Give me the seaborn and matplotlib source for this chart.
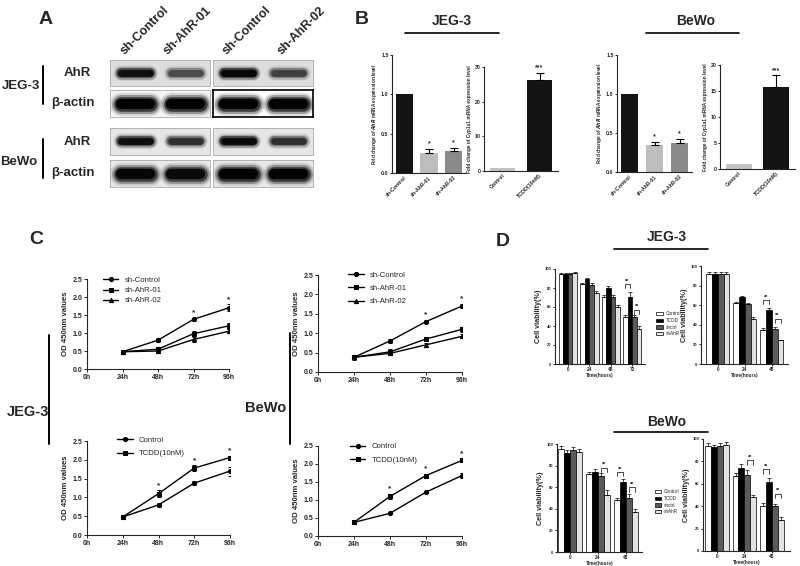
import numpy as np
import pandas as pd
import matplotlib
matplotlib.use("Agg")
import matplotlib.pyplot as plt
import seaborn as sns

# ---------------- data ----------------
# A: western blot band strength (0 = none, 1 = full black)
blot_lanes = ["sh-Control", "sh-AhR-01", "sh-Control", "sh-AhR-02"]
blot_rows = ["AhR", "β-actin", "AhR", "β-actin"]
band_strength = [
    [0.85, 0.45, 0.95, 0.50],
    [1.00, 1.00, 1.00, 1.00],
    [0.85, 0.60, 0.90, 0.60],
    [0.95, 0.90, 1.00, 1.00],
]

# B: qPCR fold change
ahr_cats = ["sh-Control", "sh-AhR-01", "sh-AhR-02"]
cyp_cats = ["Control", "TCDD(10nM)"]
jeg_ahr = [1.0, 0.25, 0.28]
jeg_ahr_err = [0.0, 0.05, 0.04]
jeg_ahr_sig = ["", "*", "*"]
jeg_cyp = [0.9, 26.2]
jeg_cyp_err = [0.0, 2.2]
jeg_cyp_sig = ["", "***"]
bewo_ahr = [1.0, 0.34, 0.37]
bewo_ahr_err = [0.0, 0.05, 0.05]
bewo_ahr_sig = ["", "*", "*"]
bewo_cyp = [1.0, 15.7]
bewo_cyp_err = [0.0, 2.3]
bewo_cyp_sig = ["", "***"]

# C: CCK-8 growth curves
hours = [24, 48, 72, 96]
hour_ticks = [0, 24, 48, 72, 96]
hour_labels = ["0h", "24h", "48h", "72h", "96h"]
sh_names = ["sh-Control", "sh-AhR-01", "sh-AhR-02"]
tcdd_names = ["Control", "TCDD(10nM)"]
jeg_sh = [[0.48, 0.80, 1.38, 1.70], [0.48, 0.55, 0.98, 1.20], [0.48, 0.50, 0.82, 1.05]]
jeg_sh_err = [[0.06, 0.05, 0.04, 0.10], [0.05, 0.07, 0.07, 0.09], [0.05, 0.05, 0.06, 0.06]]
jeg_sh_stars = [72, 96]
bewo_sh = [[0.38, 0.80, 1.30, 1.70], [0.38, 0.52, 0.85, 1.10], [0.38, 0.48, 0.70, 0.92]]
bewo_sh_err = [[0.06, 0.05, 0.04, 0.05], [0.05, 0.06, 0.06, 0.07], [0.04, 0.04, 0.05, 0.05]]
bewo_sh_stars = [72, 96]
jeg_tcdd = [[0.48, 0.80, 1.38, 1.70], [0.48, 1.10, 1.78, 2.06]]
jeg_tcdd_err = [[0.06, 0.05, 0.05, 0.12], [0.06, 0.09, 0.07, 0.05]]
jeg_tcdd_stars = [48, 72, 96]
bewo_tcdd = [[0.38, 0.63, 1.22, 1.68], [0.38, 1.10, 1.68, 2.10]]
bewo_tcdd_err = [[0.06, 0.03, 0.03, 0.06], [0.06, 0.08, 0.05, 0.05]]
bewo_tcdd_stars = [48, 72, 96]

# D: cell viability (%)
groups = ["Control", "TCDD", "shctrl", "shAhR"]
group_colors = ["white", "black", "#5a5a5a", "#e2e2e2"]
d1_times = ["0", "24", "48", "72"]
d1_vals = [[95, 84, 71, 50], [95, 90, 80, 71], [95, 83, 71, 49], [96, 75, 60, 37]]
d1_err = [[1, 1.5, 1.5, 1.5], [1, 1, 2, 5], [1, 2, 1.5, 3], [1, 2, 2, 3]]
d1_brackets = [(3, 0, 1, 84), (3, 2, 3, 57)]
d2_times = ["0", "24", "48"]
d2_vals = [[92, 62, 35], [92, 68, 55], [92, 61, 36], [92, 46, 24]]
d2_err = [[1.5, 1.5, 2], [1.5, 1.5, 2.5], [2, 1.5, 2], [2, 1.5, 1]]
d2_brackets = [(2, 0, 1, 65), (2, 2, 3, 46)]
d3_times = ["0", "24", "48"]
d3_vals = [[95, 72, 48], [92, 74, 65], [94, 70, 50], [93, 53, 37]]
d3_err = [[3, 2, 2], [2, 3, 3], [3, 3, 4], [2, 4, 3]]
d3_brackets = [(1, 2, 3, 78), (2, 0, 1, 74), (2, 2, 3, 60)]
d4_times = ["0", "24", "48"]
d4_vals = [[94, 67, 40], [93, 74, 62], [94, 68, 40], [95, 48, 28]]
d4_err = [[2, 3, 3], [2, 4, 3], [2, 4, 2], [2, 2, 2]]
d4_brackets = [(1, 2, 3, 81), (2, 0, 1, 73), (2, 2, 3, 51)]

# ---------------- style ----------------
sns.set_theme(style="ticks")
plt.rcParams["font.family"] = ["Liberation Sans", "DejaVu Sans"]
plt.rcParams["font.weight"] = "bold"
plt.rcParams["axes.labelweight"] = "bold"
plt.rcParams["axes.linewidth"] = 0.8
plt.rcParams["xtick.major.width"] = 0.7
plt.rcParams["ytick.major.width"] = 0.7
plt.rcParams["xtick.major.size"] = 2
plt.rcParams["ytick.major.size"] = 2

W, H = 800, 566
fig = plt.figure(figsize=(8, 5.66), dpi=100)


def px_axes(left, top, right, bottom):
    return fig.add_axes([left / W, 1 - bottom / H, (right - left) / W, (bottom - top) / H])


# ---------------- A: blot ----------------
row_px = [(60, 86), (90, 117), (128, 155), (160, 187)]
half_px = [(110, 210), (213, 313)]
row_face = [["#dedede", "#dedede"], ["#f4f4f4", "white"], ["#e6e6e6", "#e6e6e6"], ["#e8e8e8", "#e8e8e8"]]
row_thick = [7, 10.5, 7, 10.5]

for r in range(4):
    for h in range(2):
        ax = px_axes(half_px[h][0], row_px[r][0], half_px[h][1], row_px[r][1])
        ax.set_xlim(-0.5, 1.5)
        ax.set_ylim(-1, 1)
        ax.set_xticks([])
        ax.set_yticks([])
        ax.set_facecolor(row_face[r][h])
        for sp in ax.spines.values():
            if r == 1 and h == 1:
                sp.set_color("black")
                sp.set_linewidth(1.2)
            else:
                sp.set_color("#aaaaaa")
                sp.set_linewidth(0.6)
        for k in range(2):
            s = band_strength[r][2 * h + k]
            for f, a in [(1.6, 0.12), (1.3, 0.3), (1.0, 0.6), (0.7, 0.95)]:
                ax.plot([k - 0.29, k + 0.29], [0, 0], lw=row_thick[r] * f, color="black",
                        alpha=a * s, solid_capstyle="round")


# ---------------- B: qPCR bars ----------------
def qpcr_panel(box, cats, vals, errs, sigs, colors, yticks, gene):
    ax = px_axes(*box)
    sns.barplot(x=cats, y=vals, hue=cats, palette=colors, legend=False, width=0.7,
                saturation=1, ax=ax, edgecolor="none")
    bars = list(ax.patches)
    for i, bar in enumerate(bars):
        x = bar.get_x() + bar.get_width() / 2
        if errs[i] > 0:
            ax.errorbar(x, vals[i], yerr=[[0], [errs[i]]], fmt="none", ecolor="black",
                        elinewidth=0.8, capsize=3, capthick=0.8)
        if sigs[i]:
            ax.text(x, vals[i] + errs[i] + yticks[-1] * 0.015, sigs[i], ha="center",
                    va="bottom", fontsize=5)
    ax.set_ylim(0, yticks[-1])
    ax.set_xlim(-0.5, len(cats) - 0.5)
    ax.set_yticks(yticks)
    if isinstance(yticks[1], float):
        ax.set_yticklabels([f"{t:.1f}" for t in yticks])
    ax.tick_params(axis="y", labelsize=3.8, length=1.5, pad=1)
    ax.tick_params(axis="x", labelsize=3.8, length=0, pad=1.5)
    ax.set_xticks(range(len(cats)))
    ax.set_xticklabels(cats, rotation=45, ha="right", rotation_mode="anchor")
    ax.set_xlabel("")
    if gene == "AhR":
        label = "Fold change of $\\it{AhR}$ mRNA expression level"
    else:
        label = "Fold change of " + gene + " mRNA expression level"
    ax.set_ylabel(label, fontsize=3.4, labelpad=1.5)
    sns.despine(ax=ax)
    return ax


ahr_colors = ["#141414", "#bdbdbd", "#8a8a8a"]
cyp_colors = ["#c4c4c4", "#141414"]
qpcr_panel((392, 55, 466, 173), ahr_cats, jeg_ahr, jeg_ahr_err, jeg_ahr_sig, ahr_colors,
           [0.0, 0.5, 1.0, 1.5], "AhR")
qpcr_panel((484, 67, 558, 171), cyp_cats, jeg_cyp, jeg_cyp_err, jeg_cyp_sig, cyp_colors,
           [0, 10, 20, 30], "Cyp1a1")
qpcr_panel((617, 55, 692, 172), ahr_cats, bewo_ahr, bewo_ahr_err, bewo_ahr_sig, ahr_colors,
           [0.0, 0.5, 1.0, 1.5], "AhR")
qpcr_panel((720, 65, 795, 169), cyp_cats, bewo_cyp, bewo_cyp_err, bewo_cyp_sig, cyp_colors,
           [0, 5, 10, 15, 20], "Cyp1a1")


# ---------------- C: growth curves ----------------
def growth_panel(box, names, series, errs, stars, markers, leg_anchor, leg_space):
    ax = px_axes(*box)
    for name, vals, m in zip(names, series, markers):
        sns.lineplot(x=hours, y=vals, ax=ax, color="black", marker=m, markersize=3,
                     markeredgecolor="black", linewidth=1.0, label=name)
    for vals, err in zip(series, errs):
        ax.errorbar(hours, vals, yerr=err, fmt="none", ecolor="black", elinewidth=0.7,
                    capsize=1.5, capthick=0.7)
    for t in stars:
        i = hours.index(t)
        top = max(v[i] + e[i] for v, e in zip(series, errs))
        ax.text(t, top + 0.04, "*", ha="center", va="bottom", fontsize=6)
    ax.set_xlim(0, 96)
    ax.set_ylim(0, 2.5)
    ax.set_xticks(hour_ticks)
    ax.set_xticklabels(hour_labels)
    ax.set_yticks([0, 0.5, 1.0, 1.5, 2.0, 2.5])
    ax.set_yticklabels(["0.0", "0.5", "1.0", "1.5", "2.0", "2.5"])
    ax.tick_params(labelsize=5, pad=1.5)
    ax.set_ylabel("OD 450nm values", fontsize=5.6, labelpad=2)
    ax.legend(loc="upper left", bbox_to_anchor=leg_anchor, frameon=False, fontsize=5.6,
              handlelength=2.0, labelspacing=leg_space, borderaxespad=0, handletextpad=0.8)
    for t in ax.get_legend().get_texts():
        t.set_fontweight("normal")
    sns.despine(ax=ax)
    return ax


growth_panel((87, 279, 229, 369), sh_names, jeg_sh, jeg_sh_err, jeg_sh_stars,
             ["o", "s", "^"], (0.09, 1.06), 0.35)
growth_panel((318, 275, 462, 372), sh_names, bewo_sh, bewo_sh_err, bewo_sh_stars,
             ["o", "s", "^"], (0.19, 1.07), 0.75)
growth_panel((87, 441, 230, 535), tcdd_names, jeg_tcdd, jeg_tcdd_err, jeg_tcdd_stars,
             ["o", "s"], (0.19, 1.08), 0.75)
growth_panel((318, 446, 462, 536), tcdd_names, bewo_tcdd, bewo_tcdd_err, bewo_tcdd_stars,
             ["o", "s"], (0.2, 1.07), 0.75)


# ---------------- D: viability bars ----------------
def viability_panel(box, times, vals, errs, brackets, xlim, show_legend, leg_anchor=None):
    ax = px_axes(*box)
    df = pd.DataFrame({
        "time": [t for g in groups for t in times],
        "group": [g for g in groups for t in times],
        "value": [v for row in vals for v in row],
    })
    sns.barplot(data=df, x="time", y="value", hue="group", hue_order=groups,
                palette=group_colors, saturation=1, edgecolor="black", linewidth=0.5,
                width=0.86, ax=ax, legend=show_legend)
    bar_sets = list(ax.containers)[:len(groups)]
    centers = []
    for gi, cont in enumerate(bar_sets):
        xs = []
        for ti, bar in enumerate(cont):
            x = bar.get_x() + bar.get_width() / 2
            xs.append(x)
            ax.errorbar(x, vals[gi][ti], yerr=[[0], [errs[gi][ti]]], fmt="none",
                        ecolor="black", elinewidth=0.5, capsize=1.2, capthick=0.5)
        centers.append(xs)
    for ti, ga, gb, hgt in brackets:
        xa, xb = centers[ga][ti], centers[gb][ti]
        ax.plot([xa, xa, xb, xb], [hgt - 4, hgt, hgt, hgt - 4], color="black", lw=0.5)
        ax.text((xa + xb) / 2, hgt + 0.5, "**", ha="center", va="bottom", fontsize=4)
    ax.set_ylim(0, 100)
    ax.set_xlim(*xlim)
    ax.set_yticks([0, 20, 40, 60, 80, 100])
    ax.tick_params(axis="y", labelsize=3, length=1.5, pad=1)
    ax.tick_params(axis="x", labelsize=3.4, length=1.5, pad=1)
    ax.set_xlabel("Time(hours)", fontsize=3.4, labelpad=0.5)
    ax.set_ylabel("Cell viability(%)", fontsize=5.2, labelpad=2)
    if show_legend:
        sns.move_legend(ax, "upper left", bbox_to_anchor=leg_anchor, frameon=False,
                        fontsize=3.4, title=None, handlelength=1.4, handleheight=0.7,
                        labelspacing=0.35, handletextpad=0.6)
        for t in ax.get_legend().get_texts():
            t.set_fontweight("normal")
    sns.despine(ax=ax)
    return ax


viability_panel((555, 269, 645, 364), d1_times, d1_vals, d1_err, d1_brackets, (-0.6, 3.6),
                True, (1.08, 0.6))
viability_panel((701, 266, 788, 364), d2_times, d2_vals, d2_err, d2_brackets, (-0.62, 2.6),
                False)
viability_panel((557, 444, 642, 552), d3_times, d3_vals, d3_err, d3_brackets, (-0.46, 2.57),
                True, (1.1, 0.62))
viability_panel((703, 439, 790, 551), d4_times, d4_vals, d4_err, d4_brackets, (-0.5, 2.65),
                False)

# ---------------- labels & decorations ----------------
ov = px_axes(0, 0, W, H)
ov.set_xlim(0, W)
ov.set_ylim(H, 0)
ov.axis("off")

for letter, x, y in [("A", 46, 20), ("B", 362, 20), ("C", 36, 240), ("D", 503, 241)]:
    ov.text(x, y, letter, fontsize=14, ha="center", va="center")

# A labels
for x, lab in zip([127, 170, 229, 284], blot_lanes):
    ov.text(x, 57, lab, rotation=45, rotation_mode="anchor", ha="left", va="bottom",
            fontsize=9)
for y, lab in zip([73, 103, 142, 173], blot_rows):
    ov.text(77 if lab == "AhR" else 73, y, lab, fontsize=9.5, ha="center", va="center")
ov.text(21, 86, "JEG-3", fontsize=9.5, ha="center", va="center")
ov.text(19, 162, "BeWo", fontsize=9.5, ha="center", va="center")
ov.plot([43, 43], [66, 104], color="black", lw=1.4)
ov.plot([43, 43], [139, 178], color="black", lw=1.4)

# B titles
ov.text(452, 21, "JEG-3", fontsize=10, ha="center", va="center")
ov.plot([405, 499], [33, 33], color="black", lw=1.2)
ov.text(696, 21, "BeWo", fontsize=10, ha="center", va="center")
ov.plot([646, 739], [33, 33], color="black", lw=1.2)

# C side labels
ov.text(28, 412, "JEG-3", fontsize=10.5, ha="center", va="center")
ov.plot([49, 49], [335, 444], color="black", lw=1.4)
ov.text(266, 408, "BeWo", fontsize=10.5, ha="center", va="center")
ov.plot([290, 290], [333, 444], color="black", lw=1.4)

# D titles
ov.text(667, 237, "JEG-3", fontsize=10, ha="center", va="center")
ov.plot([614, 708], [249, 249], color="black", lw=1.2)
ov.text(667, 422, "BeWo", fontsize=10, ha="center", va="center")
ov.plot([614, 708], [432, 432], color="black", lw=1.2)

fig.savefig("out.png", dpi=100)
